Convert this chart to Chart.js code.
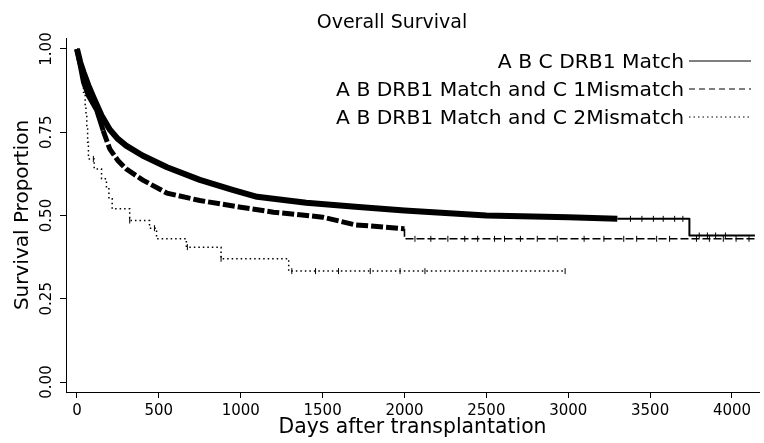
<!DOCTYPE html>
<html>
<head>
<meta charset="utf-8">
<script src="https://cdn.jsdelivr.net/npm/chart.js@4.4.0/dist/chart.umd.min.js"></script>
<style>
  html, body { margin: 0; padding: 0; background: #fff; }
</style>
</head>
<body>
<canvas id="overall-survival" width="764" height="443"></canvas>
<script>
// series names, in legend order
const chartTitle = "Overall Survival";
const seriesNames = ["A B C DRB1 Match", "A B DRB1 Match and C 1Mismatch", "A B DRB1 Match and C 2Mismatch"];

// A B C DRB1 match (solid)
const matchDays = [0, 20, 40, 70, 100, 150, 200, 250, 300, 400, 550, 750, 950, 1100, 1400, 1700, 2000, 2500, 3000, 3300, 3740, 3740, 4140];
const matchSurv = [1.00, 0.96, 0.93, 0.89, 0.855, 0.80, 0.758, 0.73, 0.71, 0.68, 0.645, 0.607, 0.577, 0.556, 0.538, 0.526, 0.515, 0.50, 0.495, 0.49, 0.49, 0.44, 0.44];

// C 1 mismatch (dashed)
const mm1Days = [0, 20, 40, 70, 120, 160, 200, 250, 300, 400, 550, 750, 1000, 1200, 1500, 1700, 2000, 2000, 4140];
const mm1Surv = [1.00, 0.95, 0.90, 0.86, 0.817, 0.755, 0.70, 0.665, 0.64, 0.607, 0.567, 0.545, 0.525, 0.51, 0.495, 0.472, 0.46, 0.43, 0.43];

// C 2 mismatch (dotted, step curve)
const mm2Days = [0, 10, 20, 30, 40, 50, 55, 60, 65, 70, 105, 150, 180, 195, 215, 322, 443, 486, 668, 880, 1293, 2980];
const mm2Surv = [1.00, 0.97, 0.93, 0.90, 0.87, 0.83, 0.80, 0.76, 0.72, 0.67, 0.64, 0.61, 0.58, 0.55, 0.52, 0.485, 0.462, 0.43, 0.405, 0.37, 0.333, 0.333];

// censoring marks
const matchCensorDays = [3380, 3450, 3520, 3580, 3650, 3700, 3800, 3850, 3900, 3960];
const mm1CensorDays = [2064, 2161, 2265, 2368, 2447, 2550, 2611, 2708, 2811, 2933, 3097, 3218, 3339, 3418, 3540, 3619, 3783, 3862, 3947, 4025, 4104];
const mm2CensorDays = [100, 322, 473, 674, 880, 1312, 1457, 1597, 1791, 1973, 2125, 2981];

const xTicks = [0, 500, 1000, 1500, 2000, 2500, 3000, 3500, 4000];
const yTicks = [0, 0.25, 0.5, 0.75, 1];

const legendDash = [[], [6, 4], [1.5, 3]];
const FONT = 'DejaVu Sans';

function toPoints(days, surv) {
  return days.map((d, i) => ({ x: d, y: surv[i] }));
}

// survival value at a censoring time: last point at or before it
function survAt(days, surv, d) {
  let v = surv[0];
  for (let i = 0; i < days.length; i++) {
    if (days[i] <= d) v = surv[i];
  }
  return v;
}

function censorPoints(cDays, days, surv) {
  return cDays.map(d => ({ x: d, y: survAt(days, surv, d) }));
}

const censorStyle = {
  showLine: false,
  pointStyle: 'line',
  rotation: 90,
  pointRadius: 3,
  pointBorderWidth: 1,
  borderColor: '#000',
  pointBorderColor: '#000'
};

// title and R-style legend (text right-aligned, line sample on the right)
const legendLines = {
  id: 'legendLines',
  afterDraw(chart) {
    const ctx = chart.ctx;
    ctx.save();
    ctx.fillStyle = '#000';
    ctx.strokeStyle = '#000';
    ctx.textBaseline = 'middle';
    ctx.textAlign = 'center';
    ctx.font = '19px "' + FONT + '"';
    ctx.fillText(chartTitle, 392, 23);
    ctx.font = '20.3px "' + FONT + '"';
    ctx.textAlign = 'right';
    seriesNames.forEach((name, i) => {
      const y = 63 + i * 28;
      ctx.fillText(name, 684, y);
      ctx.beginPath();
      ctx.setLineDash(legendDash[i]);
      ctx.lineWidth = 1.2;
      ctx.moveTo(689, y - 2);
      ctx.lineTo(751, y - 2);
      ctx.stroke();
    });
    ctx.restore();
  }
};

const ctx = document.getElementById('overall-survival');
new Chart(ctx, {
  type: 'line',
  data: {
    datasets: [
      {
        label: seriesNames[0],
        data: toPoints(matchDays, matchSurv),
        borderColor: '#000',
        borderWidth: 6,
        borderJoinStyle: 'round',
        pointRadius: 0,
        segment: {
          borderWidth: c => c.p0.parsed.x < 3300 ? 6 : 2
        }
      },
      {
        label: seriesNames[1],
        data: toPoints(mm1Days, mm1Surv),
        borderColor: '#000',
        borderWidth: 5,
        borderDash: [12, 3],
        pointRadius: 0,
        segment: {
          borderWidth: c => c.p0.parsed.x < 2000 ? 5 : 1.6,
          borderDash: c => c.p0.parsed.x < 150 ? [] : (c.p0.parsed.x < 2000 ? [12, 3] : [8, 3])
        }
      },
      {
        label: seriesNames[2],
        data: toPoints(mm2Days, mm2Surv),
        borderColor: '#000',
        borderWidth: 1.5,
        borderDash: [1.5, 3],
        stepped: true,
        pointRadius: 0
      },
      Object.assign({ data: censorPoints(matchCensorDays, matchDays, matchSurv) }, censorStyle),
      Object.assign({ data: censorPoints(mm1CensorDays, mm1Days, mm1Surv) }, censorStyle),
      Object.assign({ data: censorPoints(mm2CensorDays, mm2Days, mm2Surv) }, censorStyle)
    ]
  },
  options: {
    responsive: false,
    animation: false,
    layout: { padding: { top: 38, right: 1, bottom: 0, left: 0 } },
    plugins: {
      legend: { display: false },
      tooltip: { enabled: false },
      title: { display: false }
    },
    scales: {
      x: {
        type: 'linear',
        min: -67,
        max: 4165,
        afterBuildTicks: s => { s.ticks = xTicks.map(v => ({ value: v })); },
        afterFit: s => { s.height = 51; s.paddingLeft = 0; s.paddingRight = 0; },
        ticks: {
          autoSkip: false, minRotation: 0, maxRotation: 0, padding: 4,
          color: '#000', font: { family: FONT, size: 15 },
          callback: v => String(v)
        },
        grid: { drawOnChartArea: false, drawTicks: true, tickLength: 6, color: '#000' },
        border: { display: true, color: '#000', width: 1 },
        title: {
          display: true, text: 'Days after transplantation', color: '#000',
          font: { family: FONT, size: 20.4 }, padding: { top: 0, bottom: 3 }
        }
      },
      y: {
        type: 'linear',
        min: -0.03,
        max: 1.033,
        afterBuildTicks: s => { s.ticks = yTicks.map(v => ({ value: v })); },
        afterFit: s => { s.width = 66; s.paddingTop = 0; s.paddingBottom = 0; },
        ticks: {
          minRotation: 90, maxRotation: 90, crossAlign: 'center', padding: -4,
          color: '#000', font: { family: FONT, size: 15 },
          callback: v => v.toFixed(2)
        },
        grid: { drawOnChartArea: false, drawTicks: true, tickLength: 6, color: '#000' },
        border: { display: true, color: '#000', width: 1 },
        title: {
          display: true, text: 'Survival Proportion', color: '#000',
          font: { family: FONT, size: 20 }, padding: { top: 11, bottom: 0 }
        }
      }
    }
  },
  plugins: [legendLines]
});
</script>
</body>
</html>
